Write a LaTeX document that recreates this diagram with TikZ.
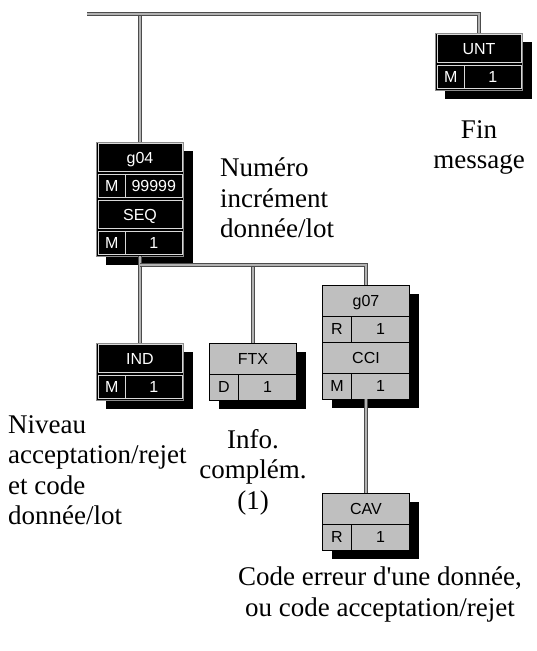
\documentclass[tikz,border=0pt]{standalone}
\usepackage{fontspec}
\setmainfont{Liberation Serif}
\newfontfamily\cellfont{Liberation Sans}
\usetikzlibrary{positioning}

% box sizes, in px of the picture
\newcommand{\boxw}{87}
\newcommand{\stw}{29}
\newcommand{\hdh}{31}
\newcommand{\sth}{26}
\newcommand{\insmand}{1.5}
\newcommand{\inscond}{0}

\tikzset{
  link/.style={draw=black!70,line width=1.2pt,double=black!30,double distance=1.6pt},
  mandbox/.style={fill=black,draw=black!45,line width=0.8pt},
  condbox/.style={fill=black!25,draw=black,line width=0.8pt},
  mandcell/.style={draw=white!85!black,line width=0.8pt},
  condcell/.style={draw=black,line width=0.8pt},
  celltxt/.style={font=\cellfont\fontsize{16}{16}\selectfont,inner sep=0pt,text height=11.5pt,text depth=0pt},
  mandtxt/.style={celltxt,text=white},
  condtxt/.style={celltxt,text=black},
  note/.style={font=\fontsize{27}{30.5}\selectfont,inner sep=0pt},
}

% shadow, frame and named node: name, kind, cx, top, height
\newcommand{\segframe}[5]{%
  \fill[black] (#3-\boxw/2+9,#4+9) rectangle (#3+\boxw/2+9,#4+#5+9);
  \draw[#2box] (#3-\boxw/2,#4) rectangle (#3+\boxw/2,#4+#5);
  \node[inner sep=0pt,outer sep=0pt,minimum width=\boxw pt,minimum height=#5 pt,anchor=north] (#1) at (#3,#4) {};
}
% header row: name, kind, cx, top, text
\newcommand{\hdrow}[5]{%
  \edef\ins{\csname ins#2\endcsname}%
  \draw[#2cell] (#3-\boxw/2+\ins,#4+\ins) rectangle (#3+\boxw/2-\ins,#4+\hdh-\ins);
  \node[#2txt] (#1-hd) at (#3,#4+\hdh/2) {#5};
}
% status row: name, kind, cx, top, status, repeat
\newcommand{\strow}[6]{%
  \edef\ins{\csname ins#2\endcsname}%
  \draw[#2cell] (#3-\boxw/2+\ins,#4+\ins) rectangle (#3-\boxw/2+\stw,#4+\sth-\ins);
  \draw[#2cell] (#3-\boxw/2+\stw,#4+\ins) rectangle (#3+\boxw/2-\ins,#4+\sth-\ins);
  \node[#2txt] (#1-st) at (#3-\boxw/2+\stw/2+\ins/2,#4+\sth/2) {#5};
  \node[#2txt] (#1-rep) at (#3+\stw/2-\ins/2,#4+\sth/2) {#6};
}

\begin{document}
\begin{tikzpicture}[x=1pt,y=-1pt]
\useasboundingbox (0,0) rectangle (536,651);

% UNT
\segframe{unt}{mand}{479}{33}{57}
\hdrow{unt}{mand}{479}{33}{UNT}
\strow{unt}{mand}{479}{64}{M}{1}

% group 4
\segframe{g04}{mand}{140}{142}{114}
\hdrow{g04}{mand}{140}{142}{g04}
\strow{g04}{mand}{140}{173}{M}{99999}
\hdrow{seq}{mand}{140}{199}{SEQ}
\strow{seq}{mand}{140}{230}{M}{1}

% IND
\segframe{ind}{mand}{140}{343}{57}
\hdrow{ind}{mand}{140}{343}{IND}
\strow{ind}{mand}{140}{374}{M}{1}

% FTX
\segframe{ftx}{cond}{253}{343}{57}
\hdrow{ftx}{cond}{253}{343}{FTX}
\strow{ftx}{cond}{253}{374}{D}{1}

% group 7
\segframe{g07}{cond}{366}{285}{114}
\hdrow{g07}{cond}{366}{285}{g07}
\strow{g07}{cond}{366}{316}{R}{1}
\hdrow{cci}{cond}{366}{342}{CCI}
\strow{cci}{cond}{366}{373}{M}{1}

% CAV
\segframe{cav}{cond}{366}{493}{57}
\hdrow{cav}{cond}{366}{493}{CAV}
\strow{cav}{cond}{366}{524}{R}{1}

% links
\coordinate (barl) at (87,14);
\coordinate (fork) at (140,265);
\draw[link] (g04.north) -- (g04.north |- barl);
\draw[link] (barl) -| (unt.north);
\draw[link] (g04.south) -- (ind.north);
\draw[link] (ftx.north) -- (ftx.north |- fork);
\draw[link] (fork) -| (g07.north);
\draw[link] (g07.south) -- (cav.north);

% notes
\node[note,align=center,below=30pt of unt] (unt-note) {Fin\\message};
\node[note,align=left,anchor=north west] (seq-note) at (220,158) {Numéro\\incrément\\donnée/lot};
\node[note,align=left,anchor=north west] (ind-note) at (8,415) {Niveau\\acceptation/rejet\\et code\\donnée/lot};
\node[note,align=center,below=29pt of ftx] (ftx-note) {Info.\\complém.\\(1)};
\node[note,align=center,anchor=north] (cav-note) at (380,567) {Code erreur d\textquotesingle une donnée,\\ou code acceptation/rejet};
\end{tikzpicture}
\end{document}
